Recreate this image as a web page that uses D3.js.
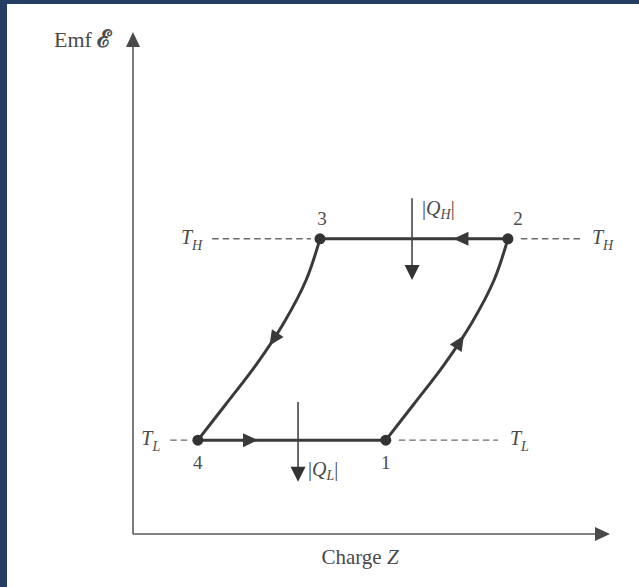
<!DOCTYPE html>
<html>
<head>
<meta charset="utf-8">
<script src="https://cdn.jsdelivr.net/npm/d3@7"></script>
<style>
  html, body { margin: 0; padding: 0; background: #ffffff; }
  svg { display: block; }
  text { font-family: "Liberation Serif", "DejaVu Serif", serif; fill: #4a4a4a; }
</style>
</head>
<body>
<script>
// Electrochemical (Carnot-like) cycle in the emf–charge plane.
// State points 1 → 2 → 3 → 4, in chart units (charge Z, emf ℰ).
const stateLabels = ["1", "2", "3", "4"];
const stateCharge = [53.0, 78.6, 39.2, 13.6];
const stateEmf    = [18.7, 58.8, 58.8, 18.7];

// Points along the two curved legs (1 → 2 and 3 → 4).
const leg12Charge = [53.0, 58.9, 65.2, 71.1, 75.7, 78.6];
const leg12Emf    = [18.7, 25.9, 33.7, 42.2, 50.6, 58.8];
const leg34Charge = [39.2, 36.3, 31.7, 25.8, 19.5, 13.6];
const leg34Emf    = [58.8, 50.6, 42.2, 33.7, 25.9, 18.7];

// Isotherms: emf level and where each dashed guide starts / ends.
const isoNames    = ["H", "L"];
const isoEmf      = [58.8, 18.7];
const isoLeftEnd  = [16.6, 7.8];
const isoRightEnd = [93.7, 76.5];

// Heat exchange arrows.
const heatNames  = ["H", "L"];
const heatCharge = [58.5, 34.6];
const heatFrom   = [66.9, 26.3];
const heatTo     = [50.6, 10.4];

const W = 639, H = 587;
const svg = d3.select("body").append("svg").attr("width", W).attr("height", H);

// page frame
svg.append("rect").attr("width", W).attr("height", H).attr("fill", "#ffffff");
svg.append("rect").attr("x", 0).attr("y", 0).attr("width", 7).attr("height", H).attr("fill", "#233e62");
svg.append("rect").attr("x", 0).attr("y", 0).attr("width", W).attr("height", 4).attr("fill", "#233e62");

const x = d3.scaleLinear().domain([0, 100]).range([133, 610]);
const y = d3.scaleLinear().domain([0, 100]).range([534, 32]);

const axisColor = "#5a5a5a";
const cycleColor = "#3a3a3a";

function arrowHead(g, tipX, tipY, angle, len, halfW, color) {
  const p = `M0,0 L${-len},${-halfW} L${-len},${halfW} Z`;
  g.append("path")
    .attr("d", p)
    .attr("fill", color)
    .attr("transform", `translate(${tipX},${tipY}) rotate(${angle})`);
}

// axes
const axes = svg.append("g");
axes.append("line")
  .attr("x1", x(0)).attr("y1", y(0)).attr("x2", x(100) - 12).attr("y2", y(0))
  .attr("stroke", axisColor).attr("stroke-width", 1.6);
arrowHead(axes, x(100), y(0), 0, 15, 7, "#4a4a4a");
axes.append("line")
  .attr("x1", x(0)).attr("y1", y(0)).attr("x2", x(0)).attr("y2", y(100) + 12)
  .attr("stroke", axisColor).attr("stroke-width", 1.6);
arrowHead(axes, x(0), y(100), -90, 15, 7, "#4a4a4a");

svg.append("text").attr("x", 54).attr("y", 47).attr("font-size", 22)
  .call(t => {
    t.append("tspan").text("Emf ");
    t.append("tspan").attr("font-size", 24).attr("font-weight", "bold").text("ℰ");
  });
svg.append("text").attr("x", 360).attr("y", 564).attr("font-size", 21)
  .attr("text-anchor", "middle")
  .call(t => { t.append("tspan").text("Charge "); t.append("tspan").attr("font-style", "italic").text("Z"); });

// isotherm dashed guides
const guides = svg.append("g");
isoNames.forEach((nm, i) => {
  const yy = y(isoEmf[i]);
  const onIso = stateCharge.filter((c, k) => stateEmf[k] === isoEmf[i]);
  const leftPt = d3.min(onIso);
  const rightPt = d3.max(onIso);
  guides.append("line")
    .attr("x1", x(isoLeftEnd[i])).attr("x2", x(leftPt) - 9)
    .attr("y1", yy).attr("y2", yy)
    .attr("stroke", "#6a6a6a").attr("stroke-width", 1.4).attr("stroke-dasharray", "6.5,4");
  guides.append("line")
    .attr("x1", x(rightPt) + 13).attr("x2", x(isoRightEnd[i]))
    .attr("y1", yy).attr("y2", yy)
    .attr("stroke", "#6a6a6a").attr("stroke-width", 1.4).attr("stroke-dasharray", "6.5,4");

  const lab = (ax, anchor) => {
    const t = svg.append("text").attr("x", ax).attr("y", yy + 5).attr("font-size", 20)
      .attr("font-style", "italic").attr("text-anchor", anchor);
    t.append("tspan").text("T");
    t.append("tspan").attr("font-size", 14).attr("dy", 6).text(nm);
  };
  lab(x(isoLeftEnd[i]) - 10, "end");
  lab(x(isoRightEnd[i]) + 12, "start");
});

// cycle
const cycle = svg.append("g");
const line = d3.line().x(d => x(d[0])).y(d => y(d[1])).curve(d3.curveCatmullRom.alpha(0.5));

const legs = [
  { pts: d3.zip(leg12Charge, leg12Emf), at: 0.55 },
  { pts: [[stateCharge[1], stateEmf[1]], [stateCharge[2], stateEmf[2]]], at: 0.29 },
  { pts: d3.zip(leg34Charge, leg34Emf), at: 0.5 },
  { pts: [[stateCharge[3], stateEmf[3]], [stateCharge[0], stateEmf[0]]], at: 0.32 }
];

legs.forEach(leg => {
  const path = cycle.append("path")
    .attr("d", line(leg.pts))
    .attr("fill", "none")
    .attr("stroke", cycleColor)
    .attr("stroke-width", 3);
  const node = path.node();
  const L = node.getTotalLength();
  const s = L * leg.at;
  const p = node.getPointAtLength(s);
  const q = node.getPointAtLength(Math.max(0, s - 2));
  const ang = Math.atan2(p.y - q.y, p.x - q.x) * 180 / Math.PI;
  arrowHead(cycle, p.x, p.y, ang, 15, 7, cycleColor);
});

// state points
cycle.selectAll("circle").data(stateLabels).join("circle")
  .attr("cx", (d, i) => x(stateCharge[i]))
  .attr("cy", (d, i) => y(stateEmf[i]))
  .attr("r", 5.5)
  .attr("fill", "#333333");

const labelOffset = { "1": [0, 29], "2": [10, -14], "3": [2, -14], "4": [0, 29] };
svg.selectAll("text.state").data(stateLabels).join("text")
  .attr("class", "state")
  .attr("x", (d, i) => x(stateCharge[i]) + labelOffset[d][0])
  .attr("y", (d, i) => y(stateEmf[i]) + labelOffset[d][1])
  .attr("text-anchor", "middle")
  .attr("font-size", 19)
  .text(d => d);

// heat arrows
const heat = svg.append("g");
heatNames.forEach((nm, i) => {
  const hx = x(heatCharge[i]);
  heat.append("line")
    .attr("x1", hx).attr("x2", hx)
    .attr("y1", y(heatFrom[i])).attr("y2", y(heatTo[i]) - 10)
    .attr("stroke", "#444").attr("stroke-width", 1.6);
  arrowHead(heat, hx, y(heatTo[i]), 90, 15, 7.5, "#333");
  const ty = nm === "H" ? y(heatFrom[i]) + 17 : y(heatTo[i]) - 6;
  const t = heat.append("text").attr("x", hx + 10).attr("y", ty).attr("font-size", 20);
  t.append("tspan").text("|");
  t.append("tspan").attr("font-style", "italic").text("Q");
  t.append("tspan").attr("font-style", "italic").attr("font-size", 14).attr("dy", 4).text(nm);
  t.append("tspan").attr("dy", -4).text("|");
});
</script>
</body>
</html>
